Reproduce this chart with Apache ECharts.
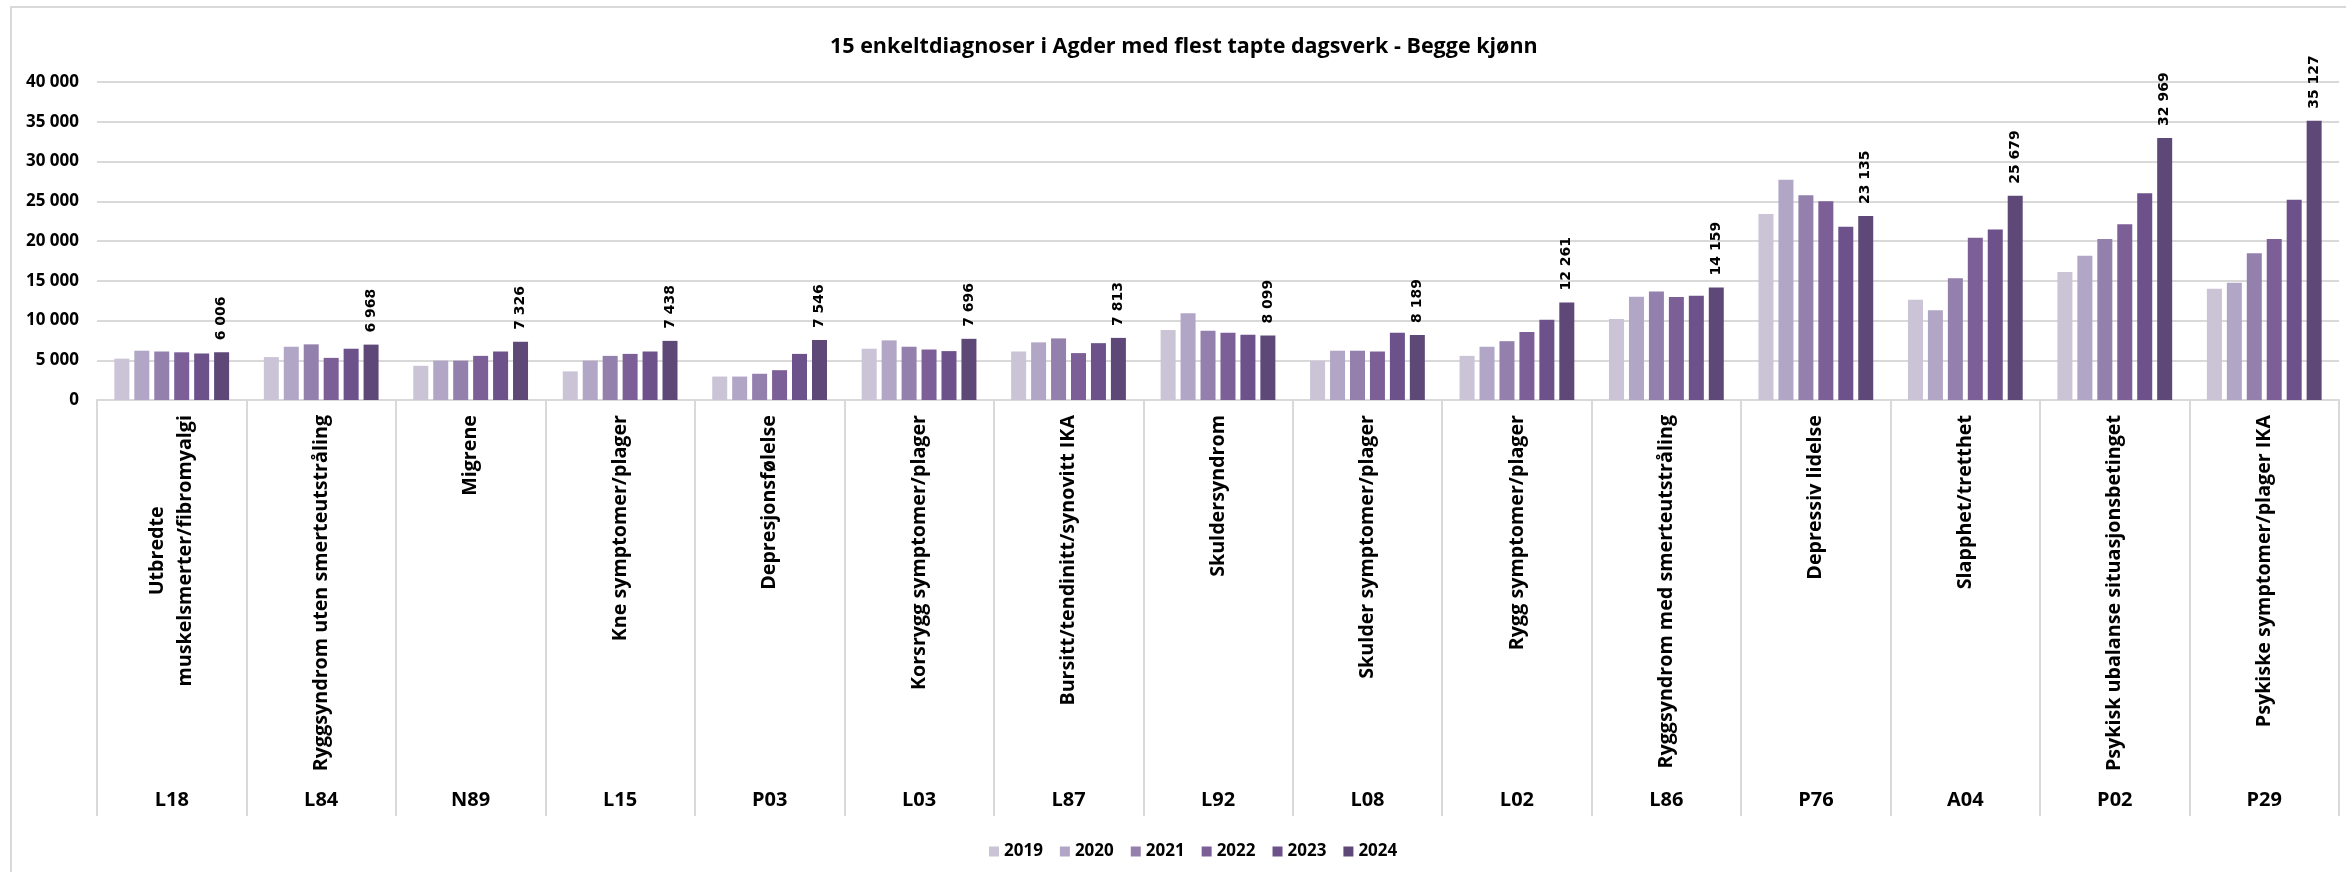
<!DOCTYPE html>
<html>
<head>
<meta charset="utf-8">
<title>Tapte dagsverk Agder</title>
<script src="https://cdn.jsdelivr.net/npm/echarts@6/dist/echarts.min.js"></script>
<style>
  html, body { margin: 0; padding: 0; background: #fff; }
  #main { width: 2346px; height: 872px; }
</style>
</head>
<body>
<div id="main"></div>
<script>
// diagnosenavn og koder (samme rekkefølge)
var names = [
  'Utbredte\nmuskelsmerter/fibromyalgi',
  'Ryggsyndrom uten smerteutstråling',
  'Migrene',
  'Kne symptomer/plager',
  'Depresjonsfølelse',
  'Korsrygg symptomer/plager',
  'Bursitt/tendinitt/synovitt IKA',
  'Skuldersyndrom',
  'Skulder symptomer/plager',
  'Rygg symptomer/plager',
  'Ryggsyndrom med smerteutstråling',
  'Depressiv lidelse',
  'Slapphet/tretthet',
  'Psykisk ubalanse situasjonsbetinget',
  'Psykiske symptomer/plager IKA'
];
var codes = ['L18', 'L84', 'N89', 'L15', 'P03', 'L03', 'L87', 'L92', 'L08', 'L02', 'L86', 'P76', 'A04', 'P02', 'P29'];

var years = ['2019', '2020', '2021', '2022', '2023', '2024'];

var v2019 = [5200, 5400, 4300, 3600, 2950, 6450, 6100, 8800, 4950, 5550, 10200, 23400, 12600, 16100, 14000];
var v2020 = [6200, 6700, 4950, 4950, 2950, 7500, 7250, 10900, 6200, 6700, 13000, 27700, 11300, 18150, 14750];
var v2021 = [6100, 7000, 4950, 5550, 3300, 6700, 7750, 8700, 6200, 7400, 13650, 25750, 15300, 20250, 18450];
var v2022 = [6000, 5300, 5550, 5800, 3750, 6350, 5900, 8450, 6100, 8550, 12950, 25000, 20400, 22100, 20250];
var v2023 = [5850, 6450, 6100, 6100, 5800, 6150, 7150, 8200, 8450, 10100, 13100, 21800, 21450, 26000, 25200];
var v2024 = [6006, 6968, 7326, 7438, 7546, 7696, 7813, 8099, 8189, 12261, 14159, 23135, 25679, 32969, 35127];

var yTicks = [0, 5000, 10000, 15000, 20000, 25000, 30000, 35000, 40000];

var colors = ['#cbc3d6', '#b1a6c5', '#9480ad', '#7d5f98', '#6c518a', '#5e4878'];

function fmt(n) {
  return String(n).replace(/\B(?=(\d{3})+(?!\d))/g, ' ');
}

var values = [v2019, v2020, v2021, v2022, v2023, v2024];
var series = [];
for (var i = 0; i < years.length; i++) {
  var s = {
    name: years[i],
    type: 'bar',
    data: values[i],
    barWidth: 15,
    barGap: '33%',
    itemStyle: { color: colors[i] }
  };
  if (i === years.length - 1) {
    s.label = {
      show: true,
      position: 'top',
      rotate: 90,
      align: 'left',
      verticalAlign: 'middle',
      distance: 12,
      fontFamily: 'DejaVu Sans',
      fontSize: 14,
      fontWeight: 'bold',
      color: '#000',
      formatter: function (p) { return fmt(p.value); }
    };
  }
  series.push(s);
}

var myChart = echarts.init(document.getElementById('main'));

var option = {
  animation: false,
  color: colors,
  graphic: [{
    type: 'rect',
    shape: { x: 11, y: 7, width: 2400, height: 900 },
    style: { fill: 'none', stroke: '#d9d9d9', lineWidth: 2 },
    silent: true
  }],
  title: {
    text: '15 enkeltdiagnoser i Agder med flest tapte dagsverk - Begge kjønn',
    left: 830,
    top: 36,
    padding: 0,
    textStyle: {
      fontFamily: 'Open Sans',
      fontSize: 21.5,
      fontWeight: 'bold',
      color: '#000'
    }
  },
  legend: {
    data: years,
    left: 984,
    top: 838,
    icon: 'rect',
    itemWidth: 10,
    itemHeight: 10,
    itemGap: 17,
    textStyle: {
      fontFamily: 'Open Sans',
      fontSize: 17,
      fontWeight: 'bold',
      color: '#000'
    }
  },
  grid: {
    left: 97,
    right: 7,
    top: 82,
    bottom: 472
  },
  xAxis: [
    {
      type: 'category',
      data: names,
      axisLine: { lineStyle: { color: '#d9d9d9', width: 2 } },
      axisTick: {
        show: true,
        length: 416,
        lineStyle: { color: '#d9d9d9', width: 2 }
      },
      axisLabel: {
        interval: 0,
        rotate: 90,
        margin: 15,
        color: '#000',
        formatter: function (v) {
          return v.split('\n').map(function (t) { return '{c|' + t + '}'; }).join('\n');
        },
        rich: {
          c: {
            align: 'center',
            fontFamily: 'Open Sans',
            fontSize: 19.7,
            fontWeight: 'bold',
            lineHeight: 28,
            color: '#000'
          }
        }
      }
    },
    {
      type: 'category',
      data: codes,
      position: 'bottom',
      offset: 390,
      axisLine: { show: false },
      axisTick: { show: false },
      axisLabel: {
        interval: 0,
        margin: 0,
        color: '#000',
        fontFamily: 'Open Sans',
        fontSize: 20,
        fontWeight: 'bold'
      }
    }
  ],
  yAxis: {
    type: 'value',
    min: yTicks[0],
    max: yTicks[yTicks.length - 1],
    interval: 5000,
    axisLine: { show: false },
    axisTick: { show: false },
    splitLine: { lineStyle: { color: '#d9d9d9', width: 2 } },
    axisLabel: {
      margin: 18,
      color: '#000',
      fontFamily: 'Open Sans',
      fontSize: 17,
      fontWeight: 'bold',
      formatter: function (v) { return fmt(v); }
    }
  },
  series: series
};

myChart.setOption(option);
</script>
</body>
</html>
